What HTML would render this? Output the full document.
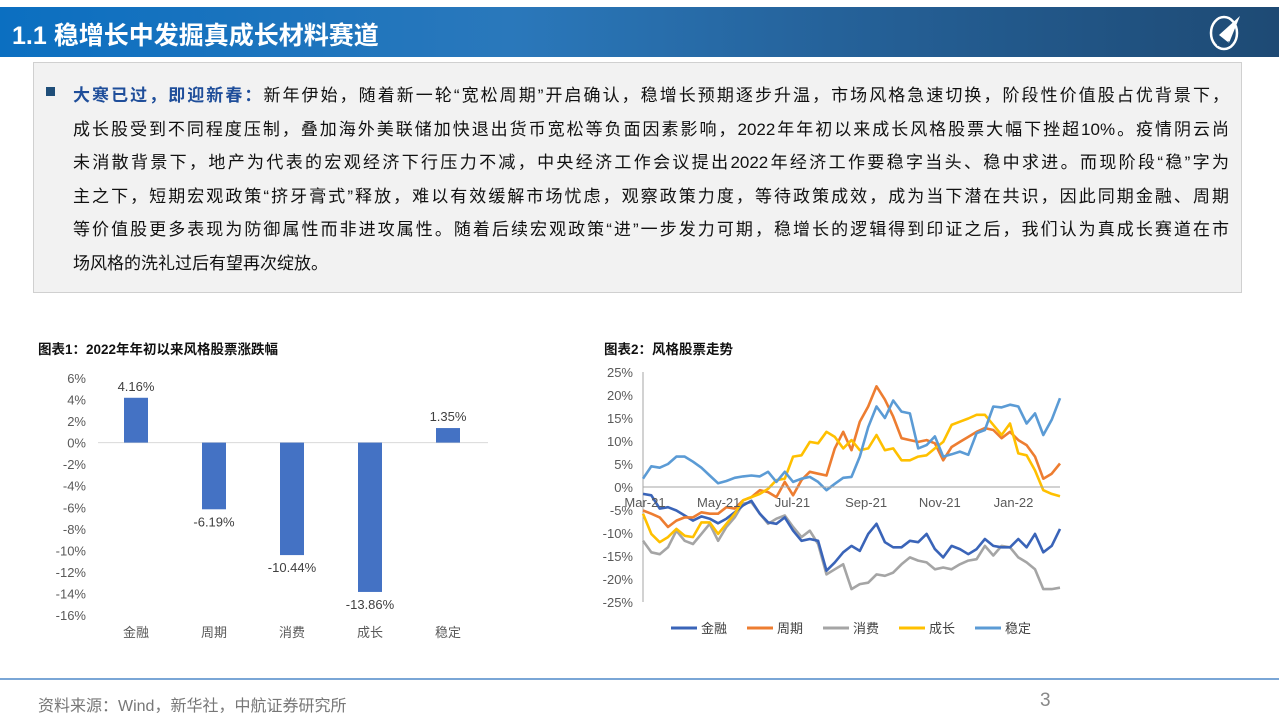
<!DOCTYPE html>
<html><head><meta charset="utf-8">
<style>
body{margin:0;width:1279px;height:719px;overflow:hidden;background:#fff;font-family:"Liberation Sans","Noto Sans CJK SC",sans-serif;position:relative}
#banner{position:absolute;left:0;top:7px;width:1279px;height:50px;background:linear-gradient(90deg,#0b6fc1 0%,#2a78bb 40%,#25629a 65%,#1e4a74 100%)}
#banner h1{margin:0;position:absolute;left:12px;top:9px;color:#fff;font-size:25px;font-weight:bold;font-family:"Liberation Sans","Noto Sans CJK SC",sans-serif}
#logo{position:absolute;left:1207px;top:6px;width:38px;height:38px}
#box{position:absolute;left:33px;top:62px;width:1207px;height:229px;background:#f2f2f2;border:1px solid #d0d0d0}
.ln{position:absolute;left:39px;width:1156px;font-size:17px;color:#111;white-space:nowrap;text-align:justify;text-align-last:justify}
.b{color:#1f4e9a;font-weight:bold}
#bullet{position:absolute;left:12px;top:24px;width:9px;height:9px;background:#1f4e79}
.ct{position:absolute;top:338px;font-size:13.5px;font-weight:bold;color:#111}
#footline{position:absolute;left:0;top:678px;width:1279px;height:2px;background:#7aa6d6}
#src{position:absolute;left:38px;top:692px;font-size:16px;color:#777}
#pg{position:absolute;left:1040px;top:690px;font-size:19px;color:#888}
svg text{font-family:"Liberation Sans","Noto Sans CJK SC",sans-serif}
</style></head><body>
<div id="banner">
<h1>1.1 稳增长中发掘真成长材料赛道</h1>
<svg id="logo" viewBox="0 0 38 38"><ellipse cx="17" cy="20" rx="13" ry="16" fill="none" stroke="#fff" stroke-width="2.5"/><path d="M12 22 L33 3 L22 30 Z" fill="#fff"/><text x="10" y="33" font-size="6" fill="#1e4a74" font-weight="bold">AVIC</text></svg>
</div>
<div id="box">
<div id="bullet"></div>
<div class="ln" style="top:18px"><span class="b">大寒已过，即迎新春：</span>新年伊始，随着新一轮“宽松周期”开启确认，稳增长预期逐步升温，市场风格急速切换，阶段性价值股占优背景下，</div>
<div class="ln" style="top:52px">成长股受到不同程度压制，叠加海外美联储加快退出货币宽松等负面因素影响，2022年年初以来成长风格股票大幅下挫超10%。疫情阴云尚</div>
<div class="ln" style="top:85px">未消散背景下，地产为代表的宏观经济下行压力不减，中央经济工作会议提出2022年经济工作要稳字当头、稳中求进。而现阶段“稳”字为</div>
<div class="ln" style="top:119px">主之下，短期宏观政策“挤牙膏式”释放，难以有效缓解市场忧虑，观察政策力度，等待政策成效，成为当下潜在共识，因此同期金融、周期</div>
<div class="ln" style="top:152px">等价值股更多表现为防御属性而非进攻属性。随着后续宏观政策“进”一步发力可期，稳增长的逻辑得到印证之后，我们认为真成长赛道在市</div>
<div class="ln" style="top:186px;text-align-last:left">场风格的洗礼过后有望再次绽放。</div>
</div>
<div class="ct" style="left:38px">图表1：2022年年初以来风格股票涨跌幅</div>
<div class="ct" style="left:604px">图表2：风格股票走势</div>
<svg id="c1" style="position:absolute;left:0;top:0" width="500" height="660"></svg>
<svg id="c2" style="position:absolute;left:0;top:0;left:0" width="1279" height="660"></svg>
<div id="footline"></div>
<div id="src">资料来源：Wind，新华社，中航证券研究所</div>
<div id="pg">3</div>
<script>
const barCats=["金融","周期","消费","成长","稳定"];
const barVals=[4.16,-6.19,-10.44,-13.86,1.35];
const barTicks=[6,4,2,0,-2,-4,-6,-8,-10,-12,-14,-16];

const lineXLabels=["Mar-21","May-21","Jul-21","Sep-21","Nov-21","Jan-22"];
const lineYTicks=[25,20,15,10,5,0,-5,-10,-15,-20,-25];
const seriesNames=["金融","周期","消费","成长","稳定"];
const finance=[-1.5,-1.8,-4.7,-4.4,-5.1,-6.2,-7.3,-6.4,-6.9,-7.9,-6.9,-5.5,-4,-3,-5.8,-7.7,-8,-6.6,-9.5,-11.7,-11.3,-11.7,-18.2,-16.4,-14.2,-12.8,-13.9,-10.2,-8,-12,-13.1,-13.1,-11.7,-12,-10.2,-13.5,-15.3,-12.8,-13.5,-14.6,-13.5,-11.3,-12.8,-13.1,-13.1,-11.3,-13.1,-10.2,-14.2,-12.8,-9.1];
const cyclical=[-5.1,-5.8,-6.6,-8.7,-7.3,-6.6,-6.6,-5.5,-5.8,-5.8,-4.4,-4.7,-2.9,-2.2,-0.7,-1.1,-2.2,1.1,-1.8,1.5,3.3,2.9,2.5,8.4,12,8,14.2,17.5,21.9,19,15.3,10.6,10.2,9.8,10.2,9.5,5.8,8.7,9.8,10.9,12,12.8,12.4,10.6,12,10.2,9.1,6.6,1.8,2.9,5.1];
const consumer=[-11.7,-14.2,-14.6,-13.1,-9.5,-11.7,-12.4,-10.2,-8,-11.7,-8.7,-6.6,-3.6,-3.3,-5.8,-8,-6.9,-6.2,-8.7,-10.9,-9.5,-12.4,-19,-17.9,-16.8,-22.2,-21.1,-20.8,-19,-19.3,-18.6,-16.8,-15.3,-16,-16.4,-17.9,-17.5,-17.9,-16.8,-16,-15.7,-12.8,-14.9,-12.8,-13.1,-15.3,-16.4,-17.9,-22.2,-22.2,-21.9];
const growth=[-5.8,-10.2,-12,-10.9,-9.1,-10.6,-10.9,-7.7,-7.7,-10.2,-8,-5.8,-2.9,-2.2,-1.5,-0.4,1.5,1.8,6.6,6.9,9.8,9.5,12,10.9,8.4,10.2,8,8.4,11.3,8,8.4,5.8,5.8,6.6,6.9,8.4,9.8,13.5,14.2,14.9,15.7,15.7,13.5,11.3,13.8,7.3,6.9,3.6,-0.7,-1.5,-2];
const stable=[1.8,4.5,4.2,5,6.6,6.6,5.5,4.2,2.5,0.8,1.3,2,2.3,2.5,2.3,3.3,1.1,3.3,1.1,1.8,2.2,1.1,-0.7,0.7,2,2.2,6.6,13,17.5,15,18.8,16.4,16,8.4,9.1,11,6.6,7.1,7.7,7,11.7,12.4,17.5,17.3,17.9,17.5,13.8,16,11.3,14.6,19.3];
const seriesColors=["#3a64b8","#ed7d31","#a5a5a5","#ffc000","#5b9bd5"];

const NS="http://www.w3.org/2000/svg";
function mk(svg,tag,attrs,txt){const e=document.createElementNS(NS,tag);for(const k in attrs)e.setAttribute(k,attrs[k]);if(txt!==undefined)e.textContent=txt;svg.appendChild(e);return e;}

(function(){
const s=document.getElementById('c1');
const y=v=>442.6-v*10.775;
const x=i=>136+i*78;
barTicks.forEach(t=>{const e=mk(s,'text',{x:86,y:y(t)+5,'text-anchor':'end','font-size':13,fill:'#595959'},t+'%');

});
const ax=mk(s,'line',{x1:98,x2:488,y1:y(0),y2:y(0),stroke:'#d9d9d9','stroke-width':1});


barVals.forEach((v,i)=>{
const top=Math.min(y(v),y(0)),h=Math.abs(y(v)-y(0));
const r=mk(s,'rect',{x:x(i)-12,y:top,width:24,height:h,fill:'#4472c4'});


const ly=v>=0?y(v)-7:y(v)+17;
const l=mk(s,'text',{x:x(i),y:ly,'text-anchor':'middle','font-size':13,fill:'#404040'},v.toFixed(2)+'%');


const c=mk(s,'text',{x:x(i),y:637,'text-anchor':'middle','font-size':13,fill:'#595959'},barCats[i]);


});
})();

(function(){
const s=document.getElementById('c2');
const y=v=>487-v*4.6;
const n=finance.length;
const x=i=>643+i*(417/(n-1));
const ya=mk(s,'line',{x1:643,x2:643,y1:372,y2:602,stroke:'#a6a6a6'});


lineYTicks.forEach(t=>{const e=mk(s,'text',{x:633,y:y(t)+5,'text-anchor':'end','font-size':13,fill:'#595959'},t+'%');

});
const data=[finance,cyclical,consumer,growth,stable];
const order=[2,0,1,3,4];
order.forEach(k=>{
const d=data[k].map((v,i)=>(i?'L':'M')+x(i).toFixed(1)+' '+y(v).toFixed(1)).join(' ');
const p=mk(s,'path',{d:d,fill:'none',stroke:seriesColors[k],'stroke-width':2.6,'stroke-linejoin':'round'});


});
const ax=mk(s,'line',{x1:643,x2:1060,y1:y(0),y2:y(0),stroke:'#a6a6a6'});


lineXLabels.forEach((l,i)=>{const e=mk(s,'text',{x:645+i*73.7,y:507,'text-anchor':'middle','font-size':13,fill:'#595959'},l);

});
seriesNames.forEach((nm,k)=>{
const lx=671+k*76;
const g=mk(s,'g',{});


mk(g,'line',{x1:lx,x2:lx+26,y1:628,y2:628,stroke:seriesColors[k],'stroke-width':3});
mk(g,'text',{x:lx+30,y:633,'font-size':13,fill:'#404040'},nm);
});
})();
</script>
</body></html>
